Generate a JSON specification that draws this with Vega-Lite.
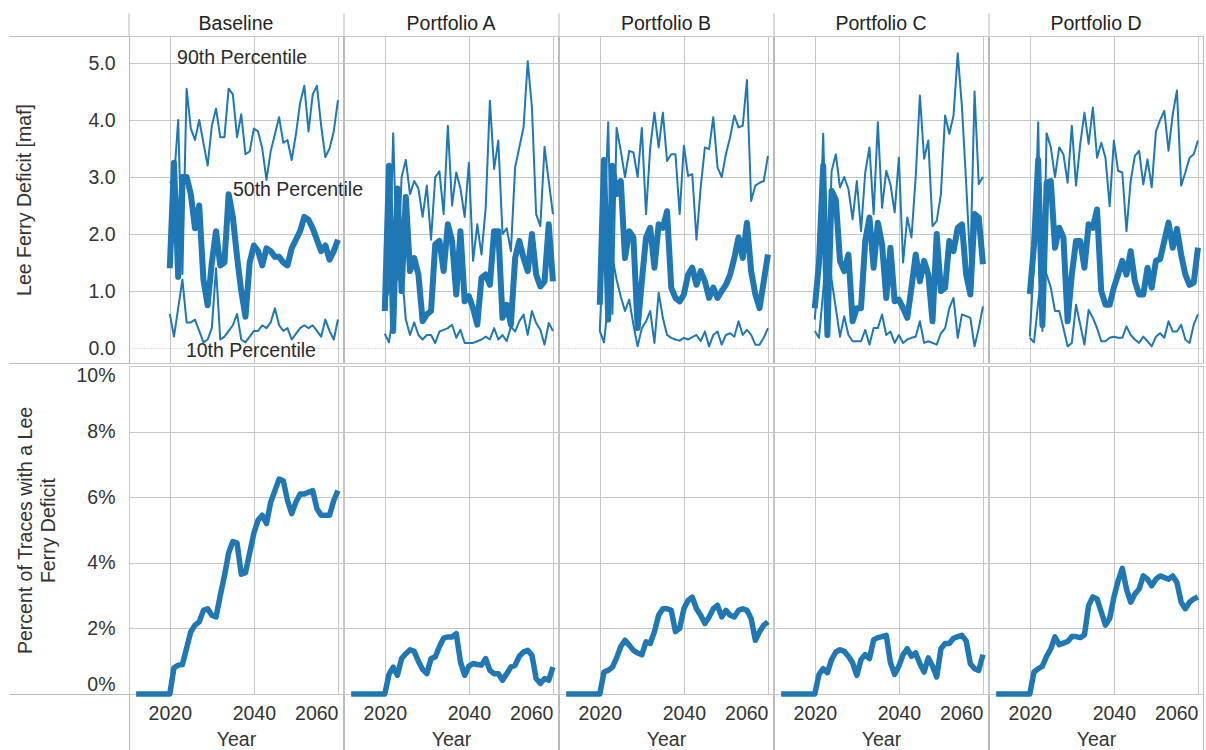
{
"$schema": "https://vega.github.io/schema/vega-lite/v6.json",
"background": "white",
"padding": {"left": 8, "top": 12, "right": 2, "bottom": 0},
"spacing": 1,
"config": {
  "font": "Liberation Sans",
  "view": {"stroke": "#b9b9b9", "strokeWidth": 1},
  "axis": {"labelFont": "Liberation Sans", "titleFont": "Liberation Sans", "labelFontSize": 19.5, "titleFontSize": 19.5, "labelColor": "#333", "titleColor": "#333", "titleFontWeight": "normal", "gridColor": "#c6c6c6", "gridWidth": 1, "ticks": false, "domain": false, "labelOverlap": false},
  "header": {"labelFont": "Liberation Sans", "labelFontSize": 19.5, "labelColor": "#222", "labelPadding": 2}
},
"datasets": {"d": [
{"s":"Baseline","x":2037.2,"v":5.09,"note":"90th Percentile"},
{"s":"Baseline","x":2050.5,"v":2.77,"note":"50th Percentile"},
{"s":"Baseline","x":2039.3,"v":-0.05,"note":"10th Percentile"},
{"s":"Baseline","x":2012,"pct":0},{"s":"Baseline","x":2013,"pct":0},{"s":"Baseline","x":2014,"pct":0},{"s":"Baseline","x":2015,"pct":0},
{"s":"Baseline","x":2016,"pct":0},{"s":"Baseline","x":2017,"pct":0},{"s":"Baseline","x":2018,"pct":0},{"s":"Baseline","x":2019,"pct":0},
{"s":"Baseline","x":2020,"p10":0.6,"p50":1.4,"p90":2.9,"pct":0},
{"s":"Baseline","x":2021,"p10":0.2,"p50":3.25,"p90":2.95,"pct":0.8},
{"s":"Baseline","x":2022,"p10":0.7,"p50":1.25,"p90":4.0,"pct":0.88},
{"s":"Baseline","x":2023,"p10":1.2,"p50":3.0,"p90":1.3,"pct":0.9},
{"s":"Baseline","x":2024,"p10":0.45,"p50":3.0,"p90":4.55,"pct":1.4},
{"s":"Baseline","x":2025,"p10":0.45,"p50":2.7,"p90":3.85,"pct":1.9},
{"s":"Baseline","x":2026,"p10":0.5,"p50":2.1,"p90":3.65,"pct":2.1},
{"s":"Baseline","x":2027,"p10":0.3,"p50":2.5,"p90":4.0,"pct":2.2},
{"s":"Baseline","x":2028,"p10":0.1,"p50":1.2,"p90":3.6,"pct":2.55},
{"s":"Baseline","x":2029,"p10":0.15,"p50":0.75,"p90":3.2,"pct":2.6},
{"s":"Baseline","x":2030,"p10":0.35,"p50":1.5,"p90":3.9,"pct":2.4},
{"s":"Baseline","x":2031,"p10":1.4,"p50":2.05,"p90":4.2,"pct":2.35},
{"s":"Baseline","x":2032,"p10":0.15,"p50":1.45,"p90":3.7,"pct":3.0},
{"s":"Baseline","x":2033,"p10":0.2,"p50":1.5,"p90":3.7,"pct":3.6},
{"s":"Baseline","x":2034,"p10":0.3,"p50":2.7,"p90":4.55,"pct":4.3},
{"s":"Baseline","x":2035,"p10":0.4,"p50":2.3,"p90":4.45,"pct":4.65},
{"s":"Baseline","x":2036,"p10":0.6,"p50":1.6,"p90":3.7,"pct":4.6},
{"s":"Baseline","x":2037,"p10":0.15,"p50":1.0,"p90":4.1,"pct":3.65},
{"s":"Baseline","x":2038,"p10":0.1,"p50":0.55,"p90":3.4,"pct":3.7},
{"s":"Baseline","x":2039,"p10":0.2,"p50":1.5,"p90":3.45,"pct":4.3},
{"s":"Baseline","x":2040,"p10":0.3,"p50":1.8,"p90":3.85,"pct":4.9},
{"s":"Baseline","x":2041,"p10":0.3,"p50":1.7,"p90":3.8,"pct":5.3},
{"s":"Baseline","x":2042,"p10":0.4,"p50":1.45,"p90":3.5,"pct":5.45},
{"s":"Baseline","x":2043,"p10":0.35,"p50":1.75,"p90":2.95,"pct":5.2},
{"s":"Baseline","x":2044,"p10":0.45,"p50":1.7,"p90":3.45,"pct":5.85},
{"s":"Baseline","x":2045,"p10":0.7,"p50":1.6,"p90":3.75,"pct":6.2},
{"s":"Baseline","x":2046,"p10":0.4,"p50":1.6,"p90":4.05,"pct":6.55},
{"s":"Baseline","x":2047,"p10":0.3,"p50":1.5,"p90":3.6,"pct":6.5},
{"s":"Baseline","x":2048,"p10":0.35,"p50":1.45,"p90":3.65,"pct":5.9},
{"s":"Baseline","x":2049,"p10":0.15,"p50":1.75,"p90":3.3,"pct":5.5},
{"s":"Baseline","x":2050,"p10":0.25,"p50":1.9,"p90":3.75,"pct":5.85},
{"s":"Baseline","x":2051,"p10":0.35,"p50":2.05,"p90":4.3,"pct":6.1},
{"s":"Baseline","x":2052,"p10":0.4,"p50":2.3,"p90":4.6,"pct":6.1},
{"s":"Baseline","x":2053,"p10":0.35,"p50":2.25,"p90":3.8,"pct":6.15},
{"s":"Baseline","x":2054,"p10":0.4,"p50":2.1,"p90":4.45,"pct":6.2},
{"s":"Baseline","x":2055,"p10":0.3,"p50":1.9,"p90":4.6,"pct":5.65},
{"s":"Baseline","x":2056,"p10":0.2,"p50":1.7,"p90":3.9,"pct":5.45},
{"s":"Baseline","x":2057,"p10":0.5,"p50":1.8,"p90":3.35,"pct":5.45},
{"s":"Baseline","x":2058,"p10":0.3,"p50":1.55,"p90":3.5,"pct":5.45},
{"s":"Baseline","x":2059,"p10":0.15,"p50":1.7,"p90":3.8,"pct":5.9},
{"s":"Baseline","x":2060,"p10":0.5,"p50":1.9,"p90":4.35,"pct":6.2},
{"s":"Portfolio A","x":2012,"pct":0},{"s":"Portfolio A","x":2013,"pct":0},{"s":"Portfolio A","x":2014,"pct":0},{"s":"Portfolio A","x":2015,"pct":0},
{"s":"Portfolio A","x":2016,"pct":0},{"s":"Portfolio A","x":2017,"pct":0},{"s":"Portfolio A","x":2018,"pct":0},{"s":"Portfolio A","x":2019,"pct":0},
{"s":"Portfolio A","x":2020,"p10":0.25,"p50":0.65,"p90":0.8,"pct":0},
{"s":"Portfolio A","x":2021,"p10":0.1,"p50":3.2,"p90":1.0,"pct":0.6},
{"s":"Portfolio A","x":2022,"p10":0.6,"p50":0.3,"p90":3.77,"pct":0.82},
{"s":"Portfolio A","x":2023,"p10":2.6,"p50":2.8,"p90":1.2,"pct":0.57},
{"s":"Portfolio A","x":2024,"p10":1.4,"p50":1.0,"p90":3.0,"pct":1.08},
{"s":"Portfolio A","x":2025,"p10":0.5,"p50":2.65,"p90":3.3,"pct":1.23},
{"s":"Portfolio A","x":2026,"p10":0.23,"p50":1.35,"p90":2.7,"pct":1.35},
{"s":"Portfolio A","x":2027,"p10":0.45,"p50":1.58,"p90":2.93,"pct":1.3},
{"s":"Portfolio A","x":2028,"p10":0.23,"p50":1.29,"p90":2.8,"pct":1.0},
{"s":"Portfolio A","x":2029,"p10":0.15,"p50":0.47,"p90":2.3,"pct":0.75},
{"s":"Portfolio A","x":2030,"p10":0.23,"p50":0.59,"p90":2.85,"pct":0.62},
{"s":"Portfolio A","x":2031,"p10":0.23,"p50":0.65,"p90":1.9,"pct":1.08},
{"s":"Portfolio A","x":2032,"p10":0.09,"p50":1.82,"p90":3.0,"pct":1.13},
{"s":"Portfolio A","x":2033,"p10":0.29,"p50":1.88,"p90":3.1,"pct":1.45},
{"s":"Portfolio A","x":2034,"p10":0.32,"p50":1.35,"p90":2.35,"pct":1.7},
{"s":"Portfolio A","x":2035,"p10":0.35,"p50":2.17,"p90":3.9,"pct":1.74},
{"s":"Portfolio A","x":2036,"p10":0.41,"p50":1.88,"p90":2.5,"pct":1.74},
{"s":"Portfolio A","x":2037,"p10":0.18,"p50":0.94,"p90":3.08,"pct":1.84},
{"s":"Portfolio A","x":2038,"p10":0.32,"p50":2.05,"p90":2.8,"pct":0.98},
{"s":"Portfolio A","x":2039,"p10":0.09,"p50":0.82,"p90":2.3,"pct":0.57},
{"s":"Portfolio A","x":2040,"p10":0.09,"p50":0.91,"p90":3.25,"pct":0.85},
{"s":"Portfolio A","x":2041,"p10":0.09,"p50":0.7,"p90":1.53,"pct":0.93},
{"s":"Portfolio A","x":2042,"p10":0.12,"p50":0.41,"p90":2.17,"pct":0.9},
{"s":"Portfolio A","x":2043,"p10":0.15,"p50":1.23,"p90":1.64,"pct":0.88},
{"s":"Portfolio A","x":2044,"p10":0.2,"p50":1.29,"p90":2.46,"pct":1.08},
{"s":"Portfolio A","x":2045,"p10":0.15,"p50":1.11,"p90":4.34,"pct":0.72},
{"s":"Portfolio A","x":2046,"p10":0.35,"p50":2.05,"p90":3.14,"pct":0.62},
{"s":"Portfolio A","x":2047,"p10":0.15,"p50":2.05,"p90":3.64,"pct":0.62},
{"s":"Portfolio A","x":2048,"p10":0.23,"p50":0.53,"p90":2.0,"pct":0.42},
{"s":"Portfolio A","x":2049,"p10":0.12,"p50":0.76,"p90":2.1,"pct":0.62},
{"s":"Portfolio A","x":2050,"p10":0.38,"p50":0.41,"p90":1.7,"pct":0.82},
{"s":"Portfolio A","x":2051,"p10":0.29,"p50":1.58,"p90":3.17,"pct":0.88},
{"s":"Portfolio A","x":2052,"p10":0.47,"p50":1.88,"p90":3.52,"pct":1.15},
{"s":"Portfolio A","x":2053,"p10":0.59,"p50":1.58,"p90":3.87,"pct":1.28},
{"s":"Portfolio A","x":2054,"p10":0.23,"p50":1.35,"p90":5.03,"pct":1.33},
{"s":"Portfolio A","x":2055,"p10":0.65,"p50":2.0,"p90":4.22,"pct":1.18},
{"s":"Portfolio A","x":2056,"p10":0.44,"p50":1.29,"p90":2.35,"pct":0.47},
{"s":"Portfolio A","x":2057,"p10":0.32,"p50":1.08,"p90":2.14,"pct":0.32},
{"s":"Portfolio A","x":2058,"p10":0.06,"p50":1.17,"p90":3.53,"pct":0.47},
{"s":"Portfolio A","x":2059,"p10":0.44,"p50":2.17,"p90":2.93,"pct":0.42},
{"s":"Portfolio A","x":2060,"p10":0.3,"p50":1.17,"p90":2.35,"pct":0.82},
{"s":"Portfolio B","x":2012,"pct":0},{"s":"Portfolio B","x":2013,"pct":0},{"s":"Portfolio B","x":2014,"pct":0},{"s":"Portfolio B","x":2015,"pct":0},
{"s":"Portfolio B","x":2016,"pct":0},{"s":"Portfolio B","x":2017,"pct":0},{"s":"Portfolio B","x":2018,"pct":0},{"s":"Portfolio B","x":2019,"pct":0},
{"s":"Portfolio B","x":2020,"p10":0.3,"p50":0.76,"p90":0.3,"pct":0},
{"s":"Portfolio B","x":2021,"p10":0.1,"p50":3.3,"p90":2.0,"pct":0.67},
{"s":"Portfolio B","x":2022,"p10":0.8,"p50":0.5,"p90":3.96,"pct":0.72},
{"s":"Portfolio B","x":2023,"p10":1.6,"p50":3.2,"p90":0.6,"pct":0.82},
{"s":"Portfolio B","x":2024,"p10":1.2,"p50":2.7,"p90":3.86,"pct":1.1},
{"s":"Portfolio B","x":2025,"p10":0.9,"p50":2.93,"p90":3.46,"pct":1.45},
{"s":"Portfolio B","x":2026,"p10":0.65,"p50":1.58,"p90":3.0,"pct":1.64},
{"s":"Portfolio B","x":2027,"p10":0.85,"p50":2.05,"p90":3.46,"pct":1.49},
{"s":"Portfolio B","x":2028,"p10":0.41,"p50":1.94,"p90":3.43,"pct":1.33},
{"s":"Portfolio B","x":2029,"p10":0.03,"p50":0.35,"p90":3.0,"pct":1.25},
{"s":"Portfolio B","x":2030,"p10":0.35,"p50":1.17,"p90":3.86,"pct":1.2},
{"s":"Portfolio B","x":2031,"p10":0.47,"p50":1.94,"p90":2.35,"pct":1.59},
{"s":"Portfolio B","x":2032,"p10":0.65,"p50":2.11,"p90":3.52,"pct":1.54},
{"s":"Portfolio B","x":2033,"p10":0.09,"p50":1.41,"p90":4.13,"pct":1.9},
{"s":"Portfolio B","x":2034,"p10":0.97,"p50":2.17,"p90":3.52,"pct":2.4},
{"s":"Portfolio B","x":2035,"p10":0.53,"p50":2.11,"p90":4.13,"pct":2.6},
{"s":"Portfolio B","x":2036,"p10":0.23,"p50":2.4,"p90":3.28,"pct":2.6},
{"s":"Portfolio B","x":2037,"p10":0.18,"p50":1.06,"p90":3.4,"pct":2.55},
{"s":"Portfolio B","x":2038,"p10":0.15,"p50":0.88,"p90":3.4,"pct":1.9},
{"s":"Portfolio B","x":2039,"p10":0.13,"p50":0.82,"p90":2.35,"pct":2.0},
{"s":"Portfolio B","x":2040,"p10":0.18,"p50":0.94,"p90":3.55,"pct":2.6},
{"s":"Portfolio B","x":2041,"p10":0.15,"p50":1.29,"p90":3.02,"pct":2.85},
{"s":"Portfolio B","x":2042,"p10":0.19,"p50":1.41,"p90":3.05,"pct":2.95},
{"s":"Portfolio B","x":2043,"p10":0.23,"p50":1.11,"p90":1.9,"pct":2.6},
{"s":"Portfolio B","x":2044,"p10":0.12,"p50":1.35,"p90":2.82,"pct":2.4},
{"s":"Portfolio B","x":2045,"p10":0.29,"p50":1.17,"p90":3.52,"pct":2.15},
{"s":"Portfolio B","x":2046,"p10":0.03,"p50":0.88,"p90":3.49,"pct":2.35},
{"s":"Portfolio B","x":2047,"p10":0.23,"p50":1.06,"p90":4.05,"pct":2.6},
{"s":"Portfolio B","x":2048,"p10":0.29,"p50":0.88,"p90":3.17,"pct":2.7},
{"s":"Portfolio B","x":2049,"p10":0.06,"p50":1.0,"p90":3.0,"pct":2.35},
{"s":"Portfolio B","x":2050,"p10":0.23,"p50":1.11,"p90":3.4,"pct":2.55},
{"s":"Portfolio B","x":2051,"p10":0.26,"p50":1.29,"p90":3.7,"pct":2.4},
{"s":"Portfolio B","x":2052,"p10":0.2,"p50":1.58,"p90":4.08,"pct":2.35},
{"s":"Portfolio B","x":2053,"p10":0.47,"p50":1.94,"p90":3.87,"pct":2.55},
{"s":"Portfolio B","x":2054,"p10":0.23,"p50":1.58,"p90":3.9,"pct":2.6},
{"s":"Portfolio B","x":2055,"p10":0.32,"p50":2.2,"p90":4.7,"pct":2.55},
{"s":"Portfolio B","x":2056,"p10":0.23,"p50":1.35,"p90":2.58,"pct":2.3},
{"s":"Portfolio B","x":2057,"p10":0.06,"p50":0.94,"p90":2.85,"pct":1.64},
{"s":"Portfolio B","x":2058,"p10":0.06,"p50":0.7,"p90":2.9,"pct":1.9},
{"s":"Portfolio B","x":2059,"p10":0.18,"p50":1.17,"p90":2.93,"pct":2.1},
{"s":"Portfolio B","x":2060,"p10":0.35,"p50":1.64,"p90":3.37,"pct":2.2},
{"s":"Portfolio C","x":2012,"pct":0},{"s":"Portfolio C","x":2013,"pct":0},{"s":"Portfolio C","x":2014,"pct":0},{"s":"Portfolio C","x":2015,"pct":0},
{"s":"Portfolio C","x":2016,"pct":0},{"s":"Portfolio C","x":2017,"pct":0},{"s":"Portfolio C","x":2018,"pct":0},{"s":"Portfolio C","x":2019,"pct":0},
{"s":"Portfolio C","x":2020,"p10":0.3,"p50":0.7,"p90":0.5,"pct":0},
{"s":"Portfolio C","x":2021,"p10":0.18,"p50":1.5,"p90":1.5,"pct":0.6},
{"s":"Portfolio C","x":2022,"p10":1.0,"p50":3.2,"p90":3.76,"pct":0.77},
{"s":"Portfolio C","x":2023,"p10":1.9,"p50":0.23,"p90":1.0,"pct":0.65},
{"s":"Portfolio C","x":2024,"p10":1.2,"p50":2.76,"p90":3.1,"pct":1.05},
{"s":"Portfolio C","x":2025,"p10":0.7,"p50":2.6,"p90":3.4,"pct":1.28},
{"s":"Portfolio C","x":2026,"p10":0.2,"p50":1.53,"p90":2.82,"pct":1.35},
{"s":"Portfolio C","x":2027,"p10":0.56,"p50":1.35,"p90":3.0,"pct":1.3},
{"s":"Portfolio C","x":2028,"p10":0.23,"p50":1.64,"p90":2.79,"pct":1.15},
{"s":"Portfolio C","x":2029,"p10":0.12,"p50":0.47,"p90":2.26,"pct":0.95},
{"s":"Portfolio C","x":2030,"p10":0.12,"p50":0.7,"p90":2.93,"pct":0.57},
{"s":"Portfolio C","x":2031,"p10":0.12,"p50":0.7,"p90":2.05,"pct":1.05},
{"s":"Portfolio C","x":2032,"p10":0.32,"p50":1.88,"p90":3.08,"pct":1.2},
{"s":"Portfolio C","x":2033,"p10":0.06,"p50":2.29,"p90":3.52,"pct":1.08},
{"s":"Portfolio C","x":2034,"p10":0.35,"p50":1.41,"p90":2.35,"pct":1.65},
{"s":"Portfolio C","x":2035,"p10":0.35,"p50":2.2,"p90":3.96,"pct":1.72},
{"s":"Portfolio C","x":2036,"p10":0.59,"p50":1.82,"p90":2.46,"pct":1.75},
{"s":"Portfolio C","x":2037,"p10":0.23,"p50":0.88,"p90":3.11,"pct":1.79},
{"s":"Portfolio C","x":2038,"p10":0.29,"p50":1.76,"p90":2.87,"pct":0.95},
{"s":"Portfolio C","x":2039,"p10":0.09,"p50":0.82,"p90":2.38,"pct":0.6},
{"s":"Portfolio C","x":2040,"p10":0.23,"p50":0.85,"p90":3.34,"pct":0.85},
{"s":"Portfolio C","x":2041,"p10":0.09,"p50":0.7,"p90":1.5,"pct":1.2},
{"s":"Portfolio C","x":2042,"p10":0.15,"p50":0.53,"p90":2.29,"pct":1.38},
{"s":"Portfolio C","x":2043,"p10":0.18,"p50":1.06,"p90":1.94,"pct":1.15},
{"s":"Portfolio C","x":2044,"p10":0.2,"p50":1.64,"p90":3.0,"pct":1.25},
{"s":"Portfolio C","x":2045,"p10":0.47,"p50":1.17,"p90":4.43,"pct":0.92},
{"s":"Portfolio C","x":2046,"p10":0.09,"p50":1.53,"p90":3.32,"pct":0.67},
{"s":"Portfolio C","x":2047,"p10":0.12,"p50":1.29,"p90":3.64,"pct":1.1},
{"s":"Portfolio C","x":2048,"p10":0.09,"p50":0.47,"p90":2.14,"pct":0.85},
{"s":"Portfolio C","x":2049,"p10":0.06,"p50":2.0,"p90":2.23,"pct":0.52},
{"s":"Portfolio C","x":2050,"p10":0.26,"p50":1.0,"p90":2.7,"pct":1.38},
{"s":"Portfolio C","x":2051,"p10":0.35,"p50":1.06,"p90":4.08,"pct":1.54},
{"s":"Portfolio C","x":2052,"p10":0.7,"p50":1.88,"p90":3.76,"pct":1.54},
{"s":"Portfolio C","x":2053,"p10":0.88,"p50":1.7,"p90":4.08,"pct":1.7},
{"s":"Portfolio C","x":2054,"p10":0.18,"p50":2.11,"p90":5.17,"pct":1.75},
{"s":"Portfolio C","x":2055,"p10":0.59,"p50":2.17,"p90":4.23,"pct":1.79},
{"s":"Portfolio C","x":2056,"p10":0.56,"p50":1.29,"p90":2.9,"pct":1.62},
{"s":"Portfolio C","x":2057,"p10":0.53,"p50":0.94,"p90":1.45,"pct":0.92},
{"s":"Portfolio C","x":2058,"p10":0.03,"p50":2.35,"p90":4.5,"pct":0.77},
{"s":"Portfolio C","x":2059,"p10":0.35,"p50":2.29,"p90":2.88,"pct":0.72},
{"s":"Portfolio C","x":2060,"p10":0.73,"p50":1.47,"p90":3.0,"pct":1.2},
{"s":"Portfolio D","x":2012,"pct":0},{"s":"Portfolio D","x":2013,"pct":0},{"s":"Portfolio D","x":2014,"pct":0},{"s":"Portfolio D","x":2015,"pct":0},
{"s":"Portfolio D","x":2016,"pct":0},{"s":"Portfolio D","x":2017,"pct":0},{"s":"Portfolio D","x":2018,"pct":0},{"s":"Portfolio D","x":2019,"pct":0},
{"s":"Portfolio D","x":2020,"p10":0.18,"p50":0.95,"p90":0.2,"pct":0},
{"s":"Portfolio D","x":2021,"p10":0.1,"p50":1.8,"p90":1.5,"pct":0.67},
{"s":"Portfolio D","x":2022,"p10":0.8,"p50":3.3,"p90":3.96,"pct":0.77},
{"s":"Portfolio D","x":2023,"p10":1.4,"p50":0.4,"p90":0.3,"pct":0.85},
{"s":"Portfolio D","x":2024,"p10":1.29,"p50":2.9,"p90":3.77,"pct":1.15},
{"s":"Portfolio D","x":2025,"p10":1.06,"p50":2.93,"p90":3.52,"pct":1.38},
{"s":"Portfolio D","x":2026,"p10":0.65,"p50":1.76,"p90":3.0,"pct":1.74},
{"s":"Portfolio D","x":2027,"p10":0.65,"p50":2.11,"p90":3.52,"pct":1.5},
{"s":"Portfolio D","x":2028,"p10":0.35,"p50":1.94,"p90":3.4,"pct":1.55},
{"s":"Portfolio D","x":2029,"p10":0.03,"p50":0.47,"p90":2.9,"pct":1.6},
{"s":"Portfolio D","x":2030,"p10":0.09,"p50":1.29,"p90":3.9,"pct":1.75},
{"s":"Portfolio D","x":2031,"p10":0.76,"p50":1.88,"p90":2.85,"pct":1.75},
{"s":"Portfolio D","x":2032,"p10":0.41,"p50":1.88,"p90":3.58,"pct":1.72},
{"s":"Portfolio D","x":2033,"p10":0.06,"p50":1.41,"p90":4.13,"pct":1.8},
{"s":"Portfolio D","x":2034,"p10":0.67,"p50":2.17,"p90":3.58,"pct":2.7},
{"s":"Portfolio D","x":2035,"p10":0.53,"p50":2.11,"p90":4.22,"pct":2.96},
{"s":"Portfolio D","x":2036,"p10":0.35,"p50":2.43,"p90":3.34,"pct":2.9},
{"s":"Portfolio D","x":2037,"p10":0.12,"p50":1.0,"p90":3.6,"pct":2.5},
{"s":"Portfolio D","x":2038,"p10":0.12,"p50":0.76,"p90":3.34,"pct":2.1},
{"s":"Portfolio D","x":2039,"p10":0.18,"p50":0.76,"p90":2.49,"pct":2.3},
{"s":"Portfolio D","x":2040,"p10":0.2,"p50":1.06,"p90":3.64,"pct":2.95},
{"s":"Portfolio D","x":2041,"p10":0.18,"p50":1.29,"p90":3.11,"pct":3.45},
{"s":"Portfolio D","x":2042,"p10":0.18,"p50":1.53,"p90":3.08,"pct":3.83},
{"s":"Portfolio D","x":2043,"p10":0.38,"p50":1.29,"p90":2.05,"pct":3.2},
{"s":"Portfolio D","x":2044,"p10":0.23,"p50":1.7,"p90":2.93,"pct":2.8},
{"s":"Portfolio D","x":2045,"p10":0.15,"p50":1.17,"p90":3.37,"pct":3.05},
{"s":"Portfolio D","x":2046,"p10":0.09,"p50":0.94,"p90":3.46,"pct":3.2},
{"s":"Portfolio D","x":2047,"p10":0.2,"p50":0.94,"p90":2.87,"pct":3.6},
{"s":"Portfolio D","x":2048,"p10":0.12,"p50":1.41,"p90":3.31,"pct":3.5},
{"s":"Portfolio D","x":2049,"p10":0.03,"p50":1.06,"p90":2.82,"pct":3.3},
{"s":"Portfolio D","x":2050,"p10":0.2,"p50":1.53,"p90":3.8,"pct":3.5},
{"s":"Portfolio D","x":2051,"p10":0.26,"p50":1.56,"p90":4.0,"pct":3.6},
{"s":"Portfolio D","x":2052,"p10":0.18,"p50":1.88,"p90":4.16,"pct":3.55},
{"s":"Portfolio D","x":2053,"p10":0.47,"p50":2.2,"p90":3.46,"pct":3.5},
{"s":"Portfolio D","x":2054,"p10":0.29,"p50":1.76,"p90":4.1,"pct":3.6},
{"s":"Portfolio D","x":2055,"p10":0.29,"p50":2.09,"p90":4.52,"pct":3.4},
{"s":"Portfolio D","x":2056,"p10":0.41,"p50":1.64,"p90":2.85,"pct":2.8},
{"s":"Portfolio D","x":2057,"p10":0.15,"p50":1.29,"p90":3.08,"pct":2.6},
{"s":"Portfolio D","x":2058,"p10":0.09,"p50":1.11,"p90":3.34,"pct":2.8},
{"s":"Portfolio D","x":2059,"p10":0.41,"p50":1.15,"p90":3.4,"pct":2.9},
{"s":"Portfolio D","x":2060,"p10":0.59,"p50":1.76,"p90":3.64,"pct":2.96}
]},
"vconcat": [
  {
    "data": {"name": "d"},
    "facet": {"column": {"field": "s", "type": "nominal", "header": {"title": null}}},
    "spacing": {"column": 1},
    "bounds": "flush",
    "spec": {
      "width": 214, "height": 327,
      "layer": [
        {
          "transform": [{"fold": ["p10", "p90"], "as": ["q", "v"]}, {"filter": "isValid(datum.v)"}],
          "mark": {"type": "line", "color": "#1f77b4", "strokeWidth": 2, "strokeJoin": "round"},
          "encoding": {
            "x": {"field": "x", "type": "quantitative", "scale": {"domain": [2010.3, 2061.2], "nice": false, "zero": false},
                  "axis": {"values": [2020, 2040, 2060], "labels": false, "title": null, "grid": true}},
            "y": {"field": "v", "type": "quantitative", "title": "Lee Ferry Deficit [maf]", "scale": {"domain": [-0.262, 5.474], "nice": false, "zero": false},
                  "axis": {"values": [-0.262, 0, 1, 2, 3, 4, 5, 5.474],
                           "labelExpr": "datum.value < -0.1 || datum.value > 5.2 ? '' : format(datum.value, '.1f')",
                           "labelFontSize": {"condition": {"test": "datum.value < -0.1 || datum.value > 5.2", "value": 0}, "value": 19.5},
                           "ticks": true, "tickSize": 120,
                           "tickColor": {"condition": {"test": "datum.value < -0.1 || datum.value > 5.2", "value": "#b9b9b9"}, "value": "rgba(0,0,0,0)"},
                           "labelPadding": -106, "titlePadding": 42, "minExtent": 53, "maxExtent": 53,
                           "gridDash": {"condition": {"test": "datum.value === 0", "value": [1, 2]}, "value": []}}},
            "detail": {"field": "q", "type": "nominal"}
          }
        },
        {
          "transform": [{"fold": ["p50"], "as": ["q", "v"]}, {"filter": "isValid(datum.v)"}],
          "mark": {"type": "line", "color": "#1f77b4", "strokeWidth": 6, "strokeJoin": "round"},
          "encoding": {
            "x": {"field": "x", "type": "quantitative"},
            "y": {"field": "v", "type": "quantitative", "title": "Lee Ferry Deficit [maf]"}
          }
        },
        {
          "transform": [{"filter": "isValid(datum.note)"}],
          "mark": {"type": "text", "fontSize": 19.5, "font": "Liberation Sans", "color": "#2a2a2a", "align": "center", "baseline": "middle"},
          "encoding": {
            "x": {"field": "x", "type": "quantitative"},
            "y": {"field": "v", "type": "quantitative", "title": "Lee Ferry Deficit [maf]"},
            "text": {"field": "note"}
          }
        },
        {
          "transform": [{"filter": "datum.x == 2012"}],
          "mark": {"type": "rule", "color": "#b9b9b9", "strokeWidth": 1},
          "encoding": {
            "x": {"datum": 2010.3, "type": "quantitative"},
            "y": {"datum": 5.474, "type": "quantitative"},
            "y2": {"datum": 5.87}
          }
        }
      ]
    }
  },
  {
    "data": {"name": "d"},
    "transform": [{"filter": "isValid(datum.pct)"}],
    "facet": {"column": {"field": "s", "type": "nominal", "header": {"labels": false, "title": null}}},
    "spacing": {"column": 1},
    "bounds": "flush",
    "spec": {
      "width": 214, "height": 328,
      "mark": {"type": "line", "color": "#1f77b4", "strokeWidth": 5.5, "strokeJoin": "round"},
      "encoding": {
        "x": {"field": "x", "type": "quantitative", "title": "Year", "scale": {"domain": [2010.3, 2061.2], "nice": false, "zero": false},
              "axis": {"values": [2010.3, 2020, 2040, 2060, 2061.2],
                       "labelExpr": "datum.value == 2020 || datum.value == 2040 || datum.value == 2060 ? format(datum.value, 'd') : ''",
                       "labelFontSize": {"condition": {"test": "datum.value < 2011 || datum.value > 2061", "value": 0}, "value": 19.5},
                       "ticks": true, "tickSize": 57,
                       "tickColor": {"condition": {"test": "datum.value < 2011 || datum.value > 2061", "value": "#b9b9b9"}, "value": "rgba(0,0,0,0)"},
                       "labelFlush": 6, "labelPadding": -47, "titlePadding": 4, "minExtent": 32, "maxExtent": 32, "grid": true}},
        "y": {"field": "pct", "type": "quantitative", "title": ["Percent of Traces with a Lee", "Ferry Deficit"], "scale": {"domain": [0, 10], "nice": false},
              "axis": {"values": [0, 2, 4, 6, 8, 10], "labelExpr": "datum.value + '%'", "labelFlush": true, "titleLineHeight": 23,
                       "ticks": true, "tickSize": 120,
                       "tickColor": {"condition": {"test": "datum.value == 0", "value": "#b9b9b9"}, "value": "rgba(0,0,0,0)"},
                       "labelPadding": -106, "titlePadding": 18, "minExtent": 53, "maxExtent": 53}}
      }
    }
  }
]
}
